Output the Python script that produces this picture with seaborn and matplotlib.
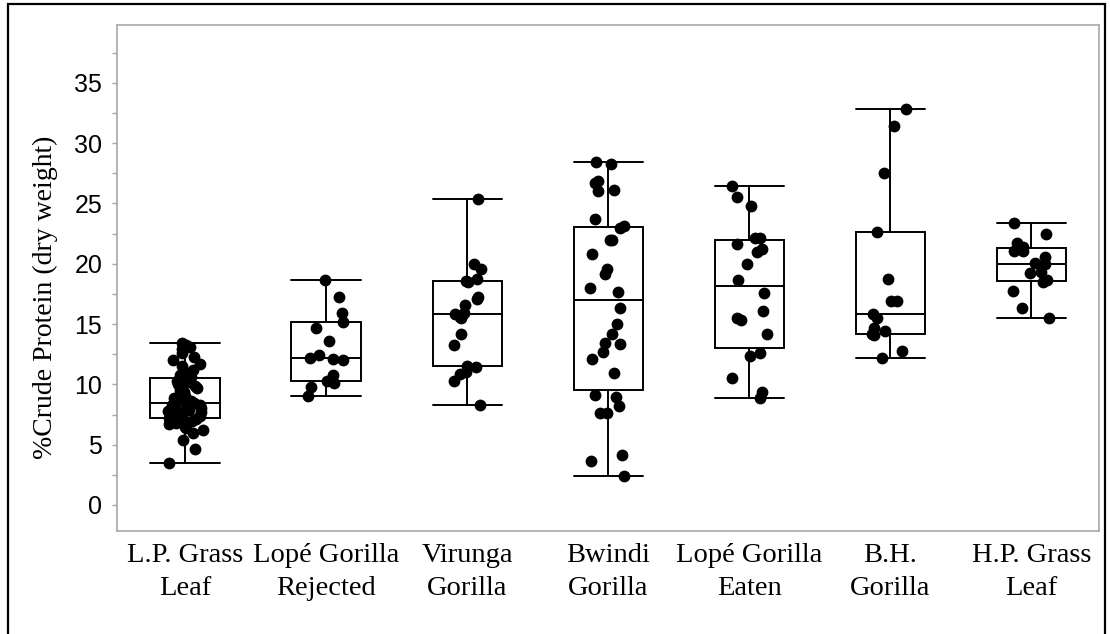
import numpy as np
import pandas as pd
import matplotlib
matplotlib.use("Agg")
import matplotlib.pyplot as plt
import seaborn as sns
from matplotlib.patches import Rectangle
from matplotlib.ticker import MultipleLocator

# ---------------- data ----------------
categories = ["L.P. Grass\nLeaf", "Lopé Gorilla\nRejected", "Virunga\nGorilla",
              "Bwindi\nGorilla", "Lopé Gorilla\nEaten", "B.H.\nGorilla", "H.P. Grass\nLeaf"]

lp_grass_leaf = [3.5, 4.6, 5.4, 6.0, 6.2, 6.4, 6.5, 6.7, 6.8, 6.9, 7.0, 7.1, 7.1, 7.2, 7.2,
                 7.4, 7.5, 7.6, 7.7, 7.8, 7.9, 8.0, 8.1, 8.2, 8.3, 8.3, 8.4, 8.45, 8.6, 8.7,
                 8.9, 9.0, 9.2, 9.4, 9.5, 9.7, 9.9, 10.0, 10.2, 10.3, 10.5, 10.5, 10.6, 10.8,
                 11.0, 11.2, 11.5, 11.7, 12.0, 12.3, 12.6, 12.9, 13.1, 13.3, 13.4]
lope_rejected = [9.0, 9.8, 10.1, 10.3, 10.8, 12.0, 12.1, 12.16, 12.4, 13.6, 14.7, 15.2,
                 15.9, 17.27, 18.65]
virunga = [8.3, 10.3, 10.9, 11.0, 11.47, 11.5, 13.3, 14.15, 15.48, 15.56, 15.84, 15.95,
           16.6, 17.1, 17.27, 18.52, 18.6, 18.71, 19.54, 19.98, 25.35]
bwindi = [2.4, 3.67, 4.15, 7.6, 7.65, 8.2, 8.93, 9.12, 10.92, 12.08, 12.7, 13.35, 13.46,
          14.2, 15.0, 16.3, 17.7, 17.97, 19.15, 19.54, 20.8, 21.97, 22.0, 23.0, 23.1, 23.7,
          26.0, 26.1, 26.7, 26.9, 28.3, 28.47]
lope_eaten = [8.85, 9.4, 10.5, 12.36, 12.63, 14.18, 15.35, 15.5, 16.1, 17.6, 18.66, 19.98,
              21.0, 21.2, 21.64, 22.1, 22.1, 24.8, 25.5, 26.45]
bh_gorilla = [12.19, 12.77, 14.1, 14.2, 14.45, 14.7, 15.5, 15.85, 16.9, 16.9, 18.7, 22.6,
              27.5, 31.43, 32.84]
hp_grass_leaf = [15.53, 16.3, 17.77, 18.5, 18.65, 19.2, 19.35, 20.0, 20.04, 20.6, 21.05,
                 21.1, 21.4, 21.75, 22.5, 23.36]

groups = [lp_grass_leaf, lope_rejected, virunga, bwindi, lope_eaten, bh_gorilla, hp_grass_leaf]
y_ticks = [0, 5, 10, 15, 20, 25, 30, 35]
y_label = "%Crude Protein (dry weight)"

# ---------------- figure ----------------
sns.set_style("white")
W, H = 1110, 634
fig = plt.figure(figsize=(W / 100, H / 100), dpi=100)
ax = fig.add_axes([117 / W, 1 - 531 / H, (1099 - 117) / W, (531 - 25) / H])

df = pd.DataFrame({
    "group": np.repeat(categories, [len(g) for g in groups]),
    "value": np.concatenate([np.asarray(g, dtype=float) for g in groups]),
})

np.random.seed(7)
sns.stripplot(data=df, x="group", y="value", order=categories, color="black",
              size=8.5, jitter=0.13, linewidth=0, ax=ax, zorder=3)

stats = []
for name, vals in zip(categories, groups):
    v = np.asarray(vals, dtype=float)
    q1, med, q3 = np.percentile(v, [25, 50, 75], method="weibull")
    iqr = q3 - q1
    lo = v[v >= q1 - 1.5 * iqr].min()
    hi = v[v <= q3 + 1.5 * iqr].max()
    stats.append(dict(med=med, q1=q1, q3=q3, whislo=lo, whishi=hi, fliers=[], label=name))

lw = 1.4
ax.bxp(stats, positions=list(range(len(categories))), widths=0.49, capwidths=0.49,
       showfliers=False, patch_artist=True, manage_ticks=False,
       boxprops=dict(facecolor="white", edgecolor="black", linewidth=lw),
       medianprops=dict(color="black", linewidth=lw),
       whiskerprops=dict(color="black", linewidth=lw),
       capprops=dict(color="black", linewidth=lw), zorder=2)

ax.set_xlim(-0.482, 6.48)
ax.set_ylim(-2.16, 39.8)
ax.set_yticks(y_ticks)
ax.yaxis.set_minor_locator(MultipleLocator(2.5))
ax.set_xlabel("")
ax.set_ylabel("")

for sp in ax.spines.values():
    sp.set_color("#a8a8a8")
    sp.set_linewidth(1.2)
    sp.set_visible(True)

ax.tick_params(axis="y", which="both", direction="out", length=3.6, width=1,
               color="#a8a8a8", pad=7, left=True)
ax.tick_params(axis="x", length=0, pad=9)
for t in ax.get_yticklabels():
    t.set_fontfamily("Liberation Sans")
    t.set_fontsize(18)
    t.set_color("black")
ax.set_xticks(range(len(categories)))
ax.set_xticklabels(categories, fontfamily="Liberation Serif", fontsize=20.5, color="black",
                   linespacing=1.38)

fig.text(45 / W, 1 - 297 / H, y_label, rotation=90, ha="center", va="center",
         fontfamily="Liberation Serif", fontsize=20, color="black")

fig.patches.append(Rectangle((8 / W, -0.1), (1105 - 8) / W, 1.1 - 4 / H,
                             transform=fig.transFigure, fill=False, edgecolor="black",
                             linewidth=1.6, zorder=0))

fig.savefig("out.png", dpi=100, facecolor="white")
